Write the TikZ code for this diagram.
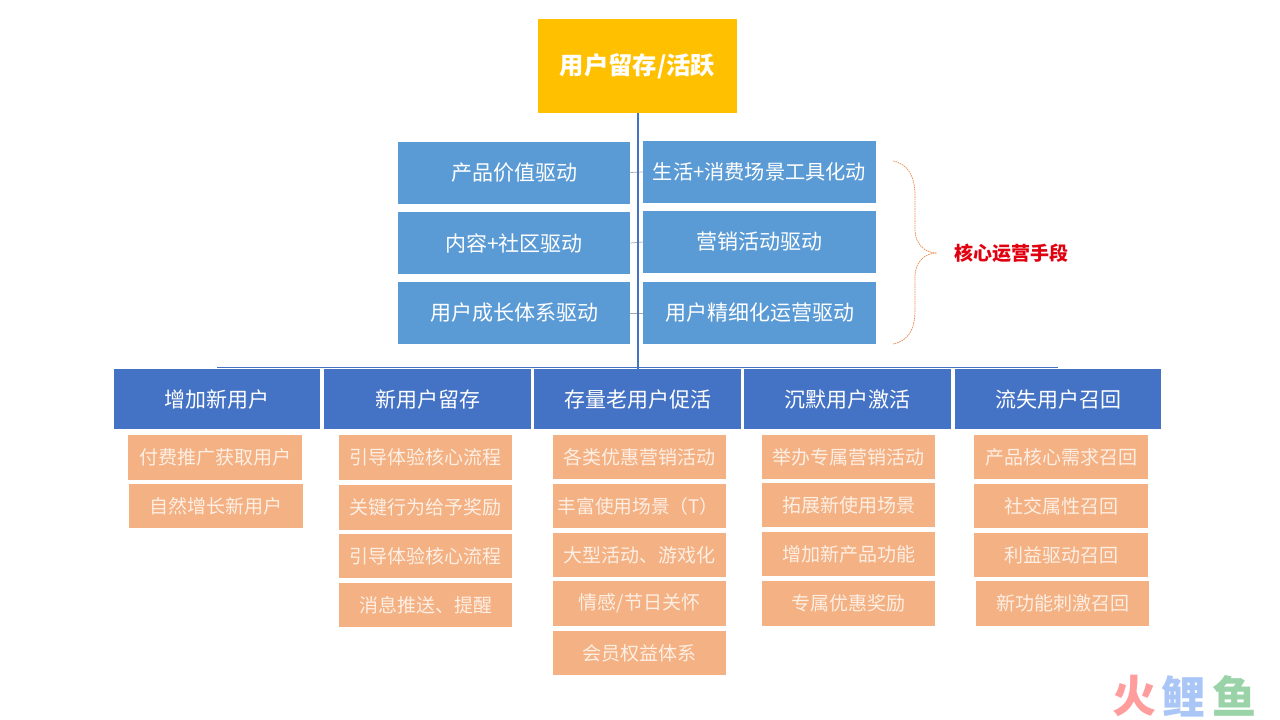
\documentclass[tikz,border=0pt]{standalone}
\usepackage{fontspec}
\setmainfont{Noto Sans CJK SC}
\definecolor{topgold}{HTML}{FFC000}
\definecolor{drivecol}{HTML}{5B9BD5}
\definecolor{tiercol}{HTML}{4472C4}
\definecolor{subcol}{HTML}{F4B183}
\definecolor{subtext}{HTML}{FDEFE4}
\definecolor{bracecol}{HTML}{E98A4B}
\definecolor{corered}{HTML}{E0000F}
\definecolor{logored}{HTML}{FF9C9C}
\definecolor{logoblue}{HTML}{A9C6F7}
\definecolor{logogreen}{HTML}{9AD3A8}
\tikzset{
    drivebox/.style={fill=drivecol,text=white,inner sep=0pt,minimum width=232.5pt,minimum height=62pt,font=\fontsize{21}{25}\selectfont},
    tierbox/.style={fill=tiercol,text=white,inner sep=0pt,minimum width=206.5pt,minimum height=59.5pt,font=\fontsize{21}{25}\selectfont},
    subbox/.style={fill=subcol,text=subtext,inner sep=0pt,minimum width=173.5pt,minimum height=44.5pt,font=\fontsize{19}{23}\selectfont},
    logotext/.style={inner sep=0pt,font=\fontsize{44}{48}\selectfont\bfseries},
    stublink/.style={draw=gray!70,line width=0.7pt},
    trunklink/.style={draw=tiercol,line width=2pt},
    buslink/.style={draw=tiercol,line width=1pt},
}

\begin{document}
\begin{tikzpicture}[x=1pt,y=-1pt]
    \useasboundingbox (0,0) rectangle (1280,720);
    % top
    \node[fill=topgold,text=white,inner sep=0pt,minimum width=199pt,minimum height=94pt,font=\fontsize{24.3}{29}\selectfont\bfseries] (retain) at (637.5,66) {用户留存/活跃};
    % drivers
    \node[drivebox] (valuedrive) at (514,172.5) {产品价值驱动};
    \node[drivebox] (contentdrive) at (514,243) {内容+社区驱动};
    \node[drivebox] (growthdrive) at (514,313) {用户成长体系驱动};
    \node[drivebox,font=\fontsize{20.2}{25}\selectfont] (tooldrive) at (759.5,172) {生活+消费场景工具化动};
    \node[drivebox] (salesdrive) at (759.5,242) {营销活动驱动};
    \node[drivebox] (finedrive) at (759.5,313) {用户精细化运营驱动};
    % tiers
    \node[tierbox] (tiernew) at (217,399.2) {增加新用户};
    \node[tierbox] (tierkeep) at (427.5,399.2) {新用户留存};
    \node[tierbox] (tierold) at (637.5,399.2) {存量老用户促活};
    \node[tierbox] (tiersilent) at (847.5,399.2) {沉默用户激活};
    \node[tierbox] (tierlost) at (1058,399.2) {流失用户召回};
    % connectors
    \draw[stublink] (valuedrive.east) -- (tooldrive.west);
    \draw[stublink] (contentdrive.east) -- (salesdrive.west);
    \draw[stublink] (growthdrive.east) -- (finedrive.west);
    \draw[trunklink] (retain.south) -- (tierold.north);
    \draw[buslink] ([yshift=1.7pt]tiernew.north) -- ([yshift=1.7pt]tierlost.north);
    % column 1
    \node[subbox,minimum height=45pt] (newa) at (215,457.5) {付费推广获取用户};
    \node[subbox] (newb) at (216,506) {自然增长新用户};
    % column 2
    \node[subbox,minimum height=45pt] (keepa) at (425.5,457.5) {引导体验核心流程};
    \node[subbox,minimum height=45pt] (keepb) at (425.5,507.5) {关键行为给予奖励};
    \node[subbox] (keepc) at (425.5,556) {引导体验核心流程};
    \node[subbox] (keepd) at (425.5,605) {消息推送、提醒};
    % column 3
    \node[subbox] (olda) at (639.5,457) {各类优惠营销活动};
    \node[subbox,font=\fontsize{18.7}{23}\selectfont] (oldb) at (639.5,506) {\hspace{-3pt}丰富使用场景（T）};
    \node[subbox] (oldc) at (639.5,555) {大型活动、游戏化};
    \node[subbox,minimum height=45pt] (oldd) at (639.5,603.5) {情感/节日关怀};
    \node[subbox] (olde) at (639.5,653) {会员权益体系};
    % column 4
    \node[subbox] (silenta) at (848.5,457) {举办专属营销活动};
    \node[subbox] (silentb) at (848.5,505) {拓展新使用场景};
    \node[subbox] (silentc) at (848.5,554) {增加新产品功能};
    \node[subbox,minimum height=45pt] (silentd) at (848.5,603.5) {专属优惠奖励};
    % column 5
    \node[subbox] (losta) at (1061,457) {产品核心需求召回};
    \node[subbox] (lostb) at (1061,506) {社交属性召回};
    \node[subbox] (lostc) at (1061,555) {利益驱动召回};
    \node[subbox,minimum height=45pt] (lostd) at (1062.5,603.5) {新功能刺激召回};
    % brace
    \draw[bracecol,line width=0.7pt,dash pattern=on 1.6pt off 0.8pt] (893,161) .. controls (908,164) and (915,176) .. (915,196) -- (915,230) .. controls (915,243) and (924,253) .. (937,253) .. controls (924,253) and (915,263) .. (915,276) -- (915,310) .. controls (915,330) and (908,341) .. (893,344);
    \node[text=corered,inner sep=0pt,font=\fontsize{19}{23}\selectfont\bfseries] (corelabel) at (1011,253) {核心运营手段};
    % logo
    \node[logotext,text=logored] (logohuo) at (1134,696) {火};
    \node[logotext,text=logoblue] (logoli) at (1183,696) {鲤};
    \node[logotext,text=logogreen] (logoyu) at (1234,696) {鱼};
\end{tikzpicture}
\end{document}
